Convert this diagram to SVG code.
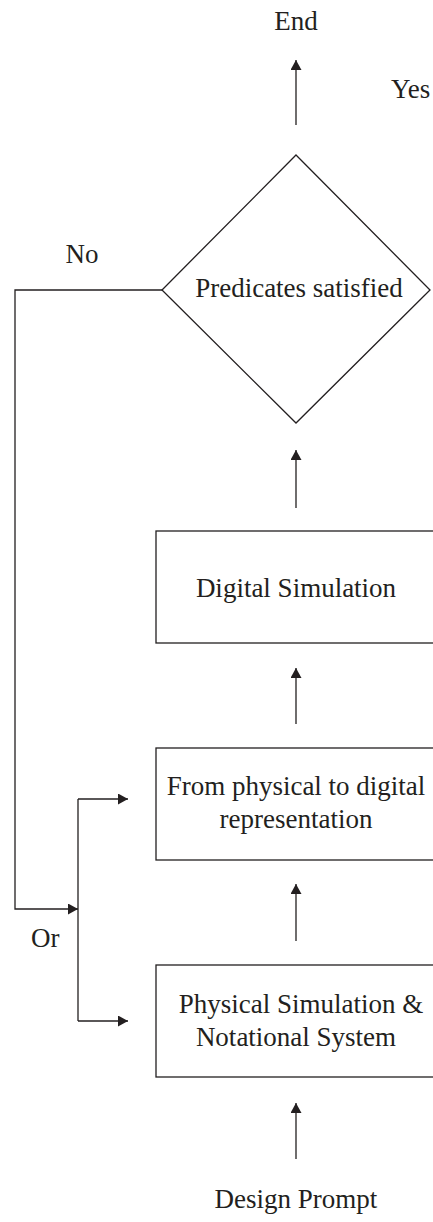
<svg xmlns="http://www.w3.org/2000/svg" width="433" height="1222" viewBox="0 0 433 1222">
<style>
  .shape{fill:#fff;stroke:#231f20;stroke-width:1.3}
  .line{fill:none;stroke:#231f20;stroke-width:1.3}
  .t{font-family:"Liberation Serif","Times New Roman",serif;font-size:27px;fill:#231f20}
  .c{text-anchor:middle}
</style>
<defs>
  <marker id="ah" markerUnits="userSpaceOnUse" markerWidth="11" markerHeight="11" refX="10" refY="5.5" orient="auto">
    <path d="M0,0 L10,5.5 L0,11 z" fill="#231f20"/>
  </marker>
</defs>
<rect width="433" height="1222" fill="#fff"/>
<g id="connectors">
  <line class="line" x1="296" y1="125" x2="296" y2="60" marker-end="url(#ah)"/>
  <line class="line" x1="296" y1="508" x2="296" y2="450" marker-end="url(#ah)"/>
  <line class="line" x1="296" y1="724" x2="296" y2="668" marker-end="url(#ah)"/>
  <line class="line" x1="296" y1="941" x2="296" y2="884" marker-end="url(#ah)"/>
  <line class="line" x1="296" y1="1159" x2="296" y2="1103" marker-end="url(#ah)"/>
  <polyline class="line" points="162,290 15,290 15,909 78,909" marker-end="url(#ah)"/>
  <line class="line" x1="78" y1="799" x2="78" y2="1021"/>
  <line class="line" x1="78" y1="799" x2="128" y2="799" marker-end="url(#ah)"/>
  <line class="line" x1="78" y1="1021" x2="128" y2="1021" marker-end="url(#ah)"/>
</g>
<g id="end"><text class="t c" x="296" y="30">End</text></g>
<g id="yes"><text class="t" x="391" y="98">Yes</text></g>
<g id="no"><text class="t c" x="82" y="263">No</text></g>
<g id="or"><text class="t" x="31" y="947">Or</text></g>
<g id="decision">
  <polygon class="shape" points="296,155 430,290 296,423 162,290"/>
  <text class="t c" x="299" y="297">Predicates satisfied</text>
</g>
<g id="digital-simulation">
  <rect class="shape" x="156" y="531" width="300" height="112"/>
  <text class="t c" x="296" y="597">Digital Simulation</text>
</g>
<g id="physical-to-digital">
  <rect class="shape" x="156" y="748" width="300" height="112"/>
  <text class="t c" x="296" y="795">From physical to digital</text>
  <text class="t c" x="296" y="828">representation</text>
</g>
<g id="physical-simulation">
  <rect class="shape" x="156" y="965" width="300" height="112"/>
  <text class="t c" x="301" y="1013">Physical Simulation &amp;</text>
  <text class="t c" x="296" y="1046">Notational System</text>
</g>
<g id="design-prompt"><text class="t c" x="296" y="1208">Design Prompt</text></g>
</svg>
